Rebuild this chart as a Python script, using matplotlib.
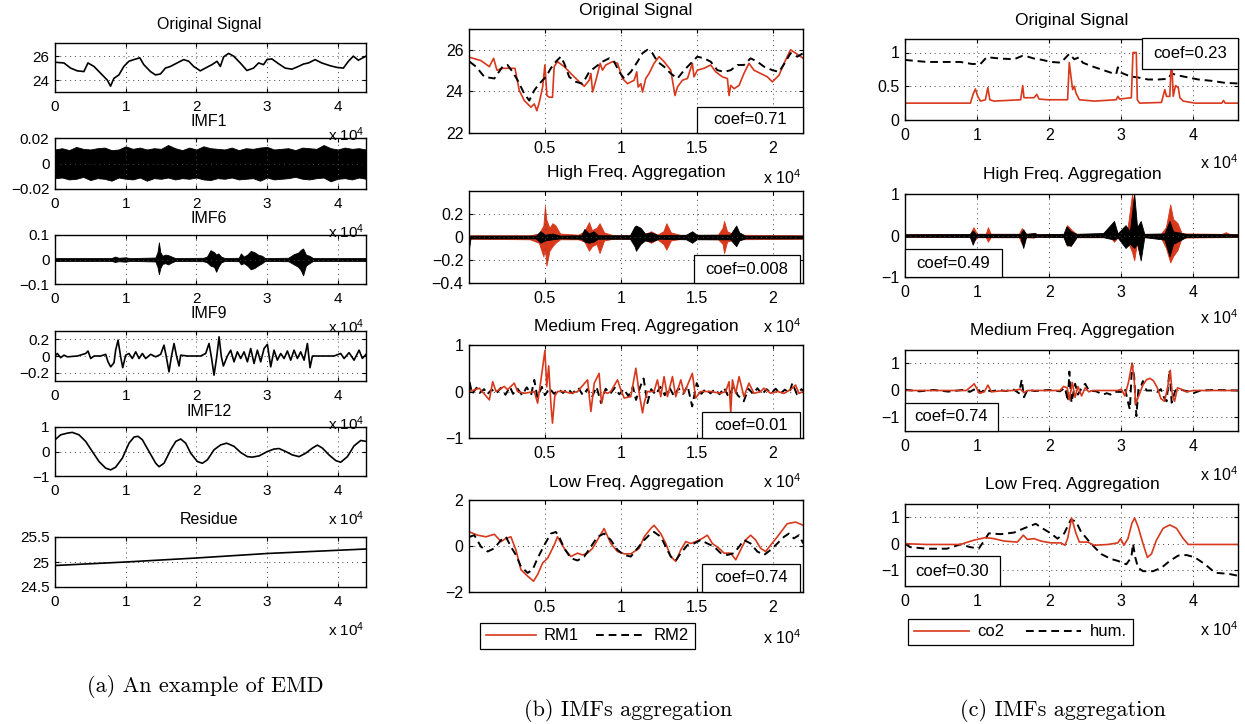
import matplotlib

matplotlib.use("Agg")

import matplotlib.pyplot as plt
from matplotlib.patches import Rectangle
from matplotlib.ticker import FuncFormatter
from matplotlib.lines import Line2D

plt.rcParams["font.family"] = ["Liberation Sans", "DejaVu Sans"]
plt.rcParams["mathtext.fontset"] = "custom"
plt.rcParams["mathtext.rm"] = "Liberation Sans"
plt.rcParams["mathtext.it"] = "Liberation Sans:italic"

RED = "#d8381c"

# ---------------------------------------------------------------- (a) EMD
# time axis in units of 1e4 samples
A_ORIG_T = [0.0, 0.127, 0.221, 0.315, 0.409, 0.466, 0.551, 0.645, 0.739, 0.786,
            0.833, 0.904, 0.974, 1.045, 1.115, 1.2, 1.256, 1.351, 1.421, 1.492,
            1.562, 1.633, 1.727, 1.821, 1.892, 1.962, 2.056, 2.127, 2.221, 2.292,
            2.339, 2.386, 2.456, 2.527, 2.621, 2.715, 2.809, 2.88, 2.951, 2.998,
            3.068, 3.162, 3.256, 3.351, 3.445, 3.515, 3.586, 3.68, 3.774, 3.892,
            3.986, 4.08, 4.151, 4.221, 4.292, 4.4]
A_ORIG_V = [25.49, 25.43, 25.0, 24.77, 24.71, 25.43, 25.14, 24.57, 24.0, 23.49,
            24.14, 24.43, 25.14, 25.57, 25.71, 25.86, 25.29, 24.71, 24.43, 24.51,
            25.0, 25.14, 25.43, 25.71, 25.57, 25.14, 24.77, 25.0, 25.29, 25.57,
            25.14, 25.94, 26.23, 26.0, 25.43, 24.8, 25.0, 25.43, 25.29, 25.71,
            25.77, 25.37, 25.0, 24.91, 25.14, 25.34, 25.43, 25.71, 25.43, 25.2,
            25.06, 25.0, 25.57, 26.0, 25.66, 26.0]

IMF1_T = [0.0, 0.1, 0.2, 0.3, 0.4, 0.5, 0.6, 0.7, 0.8, 0.9, 1.0, 1.1, 1.2, 1.3,
          1.4, 1.5, 1.6, 1.7, 1.8, 1.9, 2.0, 2.1, 2.2, 2.3, 2.4, 2.5, 2.6, 2.7,
          2.8, 2.9, 3.0, 3.1, 3.2, 3.3, 3.4, 3.5, 3.6, 3.7, 3.8, 3.9, 4.0, 4.1,
          4.2, 4.3, 4.4]
IMF1_UP = [0.011, 0.012, 0.0105, 0.013, 0.0115, 0.011, 0.012, 0.0125, 0.0105,
           0.011, 0.0135, 0.0115, 0.0125, 0.011, 0.012, 0.0115, 0.0145, 0.012,
           0.0105, 0.0125, 0.011, 0.0135, 0.012, 0.0115, 0.011, 0.0125, 0.0105,
           0.012, 0.0115, 0.0125, 0.013, 0.011, 0.0115, 0.012, 0.0105, 0.0125,
           0.012, 0.0115, 0.0145, 0.012, 0.011, 0.0125, 0.0115, 0.012, 0.011]
IMF1_LO = [-0.0115, -0.011, -0.0125, -0.012, -0.0105, -0.013, -0.0115, -0.012,
           -0.0135, -0.011, -0.012, -0.0125, -0.011, -0.0135, -0.0115, -0.012,
           -0.011, -0.0125, -0.0115, -0.012, -0.011, -0.0125, -0.013, -0.0115,
           -0.012, -0.011, -0.0125, -0.012, -0.0115, -0.0135, -0.011, -0.0125,
           -0.012, -0.0115, -0.0105, -0.012, -0.0125, -0.0115, -0.011, -0.014,
           -0.012, -0.0115, -0.0125, -0.011, -0.012]

IMF6_T = [0.0, 0.8, 0.85, 0.9, 1.0, 1.05, 1.1, 1.42, 1.45, 1.47, 1.49, 1.52, 1.56,
          1.6, 1.65, 1.7, 2.1, 2.15, 2.2, 2.25, 2.28, 2.31, 2.35, 2.4, 2.6, 2.63,
          2.67, 2.72, 2.77, 2.82, 2.87, 2.93, 2.97, 3.3, 3.38, 3.44, 3.48, 3.51,
          3.55, 3.6, 3.65, 4.4]
IMF6_UP = [0.006, 0.006, 0.012, 0.007, 0.009, 0.006, 0.006, 0.008, 0.03, 0.07,
           0.03, 0.015, 0.02, 0.018, 0.012, 0.006, 0.007, 0.012, 0.038, 0.03,
           0.02, 0.025, 0.012, 0.006, 0.007, 0.025, 0.012, 0.02, 0.035, 0.03,
           0.02, 0.015, 0.006, 0.007, 0.022, 0.028, 0.04, 0.045, 0.02, 0.015,
           0.006, 0.006]
IMF6_LO = [-0.006, -0.006, -0.01, -0.007, -0.009, -0.006, -0.006, -0.008, -0.03,
           -0.06, -0.035, -0.018, -0.015, -0.02, -0.012, -0.006, -0.007, -0.012,
           -0.025, -0.03, -0.05, -0.03, -0.012, -0.006, -0.007, -0.02, -0.015,
           -0.025, -0.04, -0.035, -0.025, -0.015, -0.006, -0.007, -0.02, -0.03,
           -0.045, -0.065, -0.025, -0.015, -0.006, -0.006]

IMF9_T = [0.0, 0.033, 0.08, 0.127, 0.175, 0.316, 0.434, 0.467, 0.505, 0.552,
          0.646, 0.717, 0.75, 0.788, 0.835, 0.858, 0.892, 0.929, 0.958, 1.0,
          1.047, 1.094, 1.142, 1.189, 1.236, 1.283, 1.354, 1.425, 1.495, 1.542,
          1.575, 1.613, 1.646, 1.684, 1.722, 1.755, 1.778, 1.873, 2.061, 2.132,
          2.179, 2.212, 2.25, 2.288, 2.321, 2.354, 2.382, 2.439, 2.486, 2.533,
          2.58, 2.627, 2.675, 2.722, 2.769, 2.816, 2.863, 2.91, 2.958, 3.005,
          3.052, 3.099, 3.146, 3.193, 3.241, 3.288, 3.335, 3.382, 3.429, 3.476,
          3.524, 3.571, 3.608, 3.642, 3.948, 4.042, 4.09, 4.16, 4.231, 4.302,
          4.349, 4.41]
IMF9_V = [0.0, 0.03, -0.02, 0.01, -0.01, 0.0, 0.03, 0.06, -0.03, 0.0,
          0.0, 0.02, -0.07, -0.13, -0.08, 0.07, 0.19, -0.01, -0.14, 0.01,
          0.03, -0.03, 0.05, -0.03, 0.03, -0.03, 0.02, -0.01, 0.02, 0.13,
          -0.01, -0.19, -0.01, 0.15, -0.01, -0.12, 0.01, 0.0, 0.0, 0.03,
          0.15, -0.01, -0.23, -0.01, 0.23, -0.01, -0.12, 0.0, 0.07, -0.07,
          0.05, -0.03, 0.05, -0.07, 0.09, -0.09, 0.07, -0.07, 0.09, 0.14,
          -0.13, 0.07, -0.05, 0.03, -0.03, 0.06, -0.05, 0.07, -0.03, 0.05,
          -0.05, 0.15, -0.14, 0.0, 0.0, 0.03, -0.03, 0.04, -0.05, 0.07,
          -0.03, 0.03]

IMF12_T = [0.0, 0.08, 0.175, 0.245, 0.34, 0.434, 0.528, 0.623, 0.717, 0.788,
           0.858, 0.953, 1.047, 1.118, 1.175, 1.236, 1.33, 1.425, 1.472, 1.542,
           1.637, 1.708, 1.778, 1.849, 1.92, 2.014, 2.085, 2.156, 2.25, 2.344,
           2.429, 2.533, 2.627, 2.722, 2.792, 2.887, 3.005, 3.099, 3.17, 3.264,
           3.358, 3.453, 3.547, 3.642, 3.712, 3.783, 3.877, 3.972, 4.042, 4.137,
           4.231, 4.325, 4.41]
IMF12_V = [0.48, 0.68, 0.75, 0.78, 0.68, 0.41, 0.0, -0.41, -0.68, -0.75,
           -0.64, -0.27, 0.34, 0.59, 0.62, 0.48, 0.0, -0.48, -0.62, -0.48,
           0.07, 0.41, 0.51, 0.34, -0.07, -0.41, -0.48, -0.34, 0.07, 0.27,
           0.34, 0.21, -0.04, -0.21, -0.23, -0.18, 0.0, 0.1, 0.12, 0.0,
           -0.14, -0.21, -0.07, 0.14, 0.26, 0.14, -0.14, -0.37, -0.44, -0.21,
           0.23, 0.45, 0.41]

RES_T = [0.0, 1.0, 2.0, 3.0, 4.4]
RES_V = [24.93, 25.0, 25.08, 25.17, 25.26]

# ------------------------------------------------- (b) RM1 / RM2 aggregation
B_ORIG_RM1_T = [0.004, 0.079, 0.134, 0.162, 0.184, 0.221, 0.254, 0.303, 0.331,
                0.364, 0.408, 0.43, 0.447, 0.463, 0.485, 0.5, 0.513, 0.529, 0.55,
                0.561, 0.583, 0.627, 0.671, 0.715, 0.759, 0.792, 0.803, 0.814,
                0.836, 0.864, 0.879, 0.901, 0.945, 0.978, 1.011, 1.044, 1.088,
                1.105, 1.114, 1.132, 1.143, 1.164, 1.186, 1.219, 1.252, 1.285,
                1.329, 1.357, 1.373, 1.406, 1.439, 1.471, 1.482, 1.504, 1.548,
                1.592, 1.625, 1.669, 1.702, 1.713, 1.724, 1.746, 1.779, 1.811,
                1.844, 1.877, 1.921, 1.965, 1.998, 2.042, 2.075, 2.118, 2.151,
                2.202]
B_ORIG_RM1_V = [25.64, 25.48, 25.19, 25.59, 25.02, 25.11, 25.11, 25.11, 24.05,
                23.56, 23.24, 23.4, 23.07, 23.48, 24.21, 25.27, 23.8, 23.72, 23.72,
                25.19, 25.43, 25.19, 24.86, 24.54, 24.24, 24.54, 24.86, 23.97,
                24.54, 25.35, 25.02, 25.27, 25.43, 25.35, 24.62, 24.37, 24.54,
                24.94, 24.21, 24.37, 23.97, 24.62, 24.86, 25.35, 25.67, 25.43,
                25.02, 23.8, 24.21, 24.54, 24.62, 25.35, 24.7, 25.02, 25.11,
                25.27, 24.94, 24.7, 24.62, 23.8, 24.29, 24.13, 24.29, 24.86,
                25.35, 25.02, 24.86, 24.7, 24.46, 24.78, 25.35, 26.0, 25.84,
                25.59]
B_ORIG_RM2_T = [0.004, 0.046, 0.101, 0.167, 0.221, 0.254, 0.287, 0.32, 0.364,
                0.397, 0.43, 0.463, 0.507, 0.539, 0.572, 0.605, 0.627, 0.66, 0.704,
                0.748, 0.792, 0.836, 0.879, 0.923, 0.956, 0.989, 1.022, 1.066,
                1.11, 1.143, 1.175, 1.208, 1.241, 1.285, 1.329, 1.373, 1.417,
                1.461, 1.504, 1.548, 1.592, 1.636, 1.68, 1.724, 1.768, 1.811,
                1.855, 1.899, 1.943, 1.998, 2.042, 2.086, 2.118, 2.162, 2.202]
B_ORIG_RM2_V = [25.43, 25.19, 24.7, 24.62, 25.19, 25.27, 24.94, 24.54, 23.89,
                23.56, 24.05, 24.37, 24.7, 25.11, 25.43, 25.67, 25.35, 24.7, 24.46,
                24.37, 24.94, 25.19, 25.43, 25.59, 25.43, 24.94, 24.62, 24.94,
                25.43, 25.84, 26.0, 25.84, 25.43, 25.19, 24.86, 24.62, 25.02,
                25.35, 25.67, 25.59, 25.43, 25.02, 24.94, 25.02, 25.27, 25.27,
                25.59, 25.43, 25.19, 25.02, 24.94, 25.43, 25.84, 25.67, 25.84]

B_HIGH_RM1_T = [0.0, 0.4, 0.46, 0.49, 0.5, 0.51, 0.53, 0.55, 0.57, 0.6, 0.72,
                0.76, 0.79, 0.81, 0.84, 0.86, 0.89, 0.95, 1.15, 1.2, 1.24, 1.28,
                1.3, 1.33, 1.4, 1.64, 1.67, 1.68, 1.7, 1.75, 2.2]
B_HIGH_RM1_UP = [0.015, 0.015, 0.03, 0.1, 0.27, 0.15, 0.08, 0.12, 0.1, 0.03, 0.02,
                 0.05, 0.13, 0.06, 0.08, 0.12, 0.04, 0.015, 0.02, 0.05, 0.02, 0.05,
                 0.12, 0.04, 0.015, 0.02, 0.08, 0.14, 0.05, 0.02, 0.015]
B_HIGH_RM1_LO = [-0.015, -0.02, -0.05, -0.17, -0.1, -0.25, -0.12, -0.08, -0.05,
                 -0.02, -0.02, -0.04, -0.12, -0.08, -0.06, -0.14, -0.03, -0.015,
                 -0.02, -0.05, -0.02, -0.06, -0.11, -0.03, -0.015, -0.02, -0.06,
                 -0.14, -0.04, -0.02, -0.015]
B_HIGH_RM2_T = [0.0, 0.01, 0.44, 0.47, 0.5, 0.55, 0.6, 0.74, 0.76, 0.79, 0.82,
                0.85, 1.06, 1.09, 1.1, 1.13, 1.16, 1.2, 1.25, 1.43, 1.47, 1.5,
                1.72, 1.76, 1.78, 1.82, 2.2]
B_HIGH_RM2_UP = [0.01, 0.012, 0.012, 0.05, 0.02, 0.03, 0.012, 0.015, 0.07, 0.03,
                 0.05, 0.015, 0.015, 0.09, 0.1, 0.08, 0.03, 0.04, 0.015, 0.02,
                 0.05, 0.02, 0.02, 0.1, 0.04, 0.012, 0.012]
B_HIGH_RM2_LO = [-0.1, -0.012, -0.012, -0.05, -0.03, -0.02, -0.012, -0.015, -0.04,
                 -0.05, -0.04, -0.015, -0.015, -0.08, -0.12, -0.06, -0.03, -0.04,
                 -0.015, -0.02, -0.05, -0.02, -0.02, -0.08, -0.03, -0.012, -0.012]

B_MED_RM1_T = [0.004, 0.068, 0.134, 0.156, 0.178, 0.232, 0.254, 0.298, 0.32,
               0.364, 0.43, 0.452, 0.474, 0.5, 0.512, 0.525, 0.54, 0.55, 0.565,
               0.583, 0.627, 0.671, 0.715, 0.781, 0.803, 0.825, 0.857, 0.873,
               0.89, 0.912, 0.934, 0.978, 1.0, 1.022, 1.066, 1.099, 1.121, 1.143,
               1.154, 1.175, 1.219, 1.241, 1.263, 1.285, 1.307, 1.34, 1.362,
               1.395, 1.417, 1.471, 1.493, 1.526, 1.592, 1.658, 1.691, 1.713,
               1.724, 1.735, 1.757, 1.779, 1.811, 1.844, 1.877, 1.921, 1.943,
               1.987, 2.031, 2.075, 2.118, 2.151, 2.173, 2.202]
B_MED_RM1_V = [0.0, 0.07, -0.18, 0.21, 0.0, 0.11, 0.04, 0.18, 0.0,
               -0.04, 0.0, -0.25, 0.25, 0.88, 0.1, 0.55, -0.3, -0.68, -0.1,
               0.0, 0.0, -0.04, 0.0, 0.25, -0.43, 0.18, 0.39, -0.25,
               0.0, -0.04, 0.0, 0.25, 0.04, -0.14, -0.11, 0.5, -0.04, -0.46,
               -0.25, 0.0, 0.0, 0.25, -0.11, 0.32, -0.11, 0.32, -0.11,
               0.25, -0.04, 0.39, -0.14, 0.0, 0.0, -0.04, 0.0, 0.21,
               -0.46, 0.25, -0.04, 0.32, -0.11, 0.18, -0.04, 0.0, 0.07,
               -0.04, 0.0, -0.04, 0.04, 0.14, -0.04, 0.0]
B_MED_RM2_T = [0.004, 0.02, 0.05, 0.07, 0.1, 0.12, 0.15, 0.18, 0.21, 0.24, 0.27,
               0.29, 0.32, 0.35, 0.38, 0.41, 0.43, 0.45, 0.48, 0.5, 0.53, 0.56,
               0.59, 0.62, 0.65, 0.68, 0.72, 0.75, 0.78, 0.81, 0.84, 0.87, 0.9,
               0.93, 0.96, 0.99, 1.02, 1.05, 1.08, 1.1, 1.13, 1.15, 1.175, 1.2,
               1.23, 1.26, 1.29, 1.32, 1.35, 1.38, 1.41, 1.44, 1.47, 1.5, 1.53,
               1.56, 1.59, 1.62, 1.65, 1.68, 1.71, 1.74, 1.77, 1.81, 1.84, 1.87,
               1.9, 1.93, 1.96, 1.99, 2.02, 2.05, 2.08, 2.11, 2.13, 2.16, 2.19,
               2.2]
B_MED_RM2_V = [0.2, -0.05, 0.08, -0.03, 0.05, -0.06, 0.04, -0.04, 0.08, -0.07,
               0.1, -0.05, 0.06, -0.08, 0.09, -0.06, 0.25, -0.12, 0.1, -0.08,
               0.07, -0.05, 0.04, -0.03, 0.06, -0.04, 0.08, -0.08, 0.05, -0.12,
               0.1, -0.25, 0.06, -0.05, 0.08, -0.06, 0.05, -0.1, 0.1, -0.18,
               0.12, 0.28, -0.25, 0.05, -0.07, 0.1, -0.08, 0.09, -0.1, 0.07,
               -0.05, 0.12, -0.32, 0.18, -0.05, 0.06, -0.04, 0.05, -0.06, 0.08,
               -0.12, 0.1, -0.08, -0.21, 0.06, -0.05, 0.07, -0.06, 0.05, -0.04,
               0.06, -0.05, 0.04, -0.03, 0.18, -0.06, 0.05, 0.02]

B_LOW_RM1_T = [0.004, 0.057, 0.112, 0.167, 0.211, 0.243, 0.276, 0.309, 0.342,
               0.386, 0.425, 0.452, 0.485, 0.518, 0.561, 0.583, 0.627, 0.671,
               0.715, 0.748, 0.781, 0.814, 0.846, 0.89, 0.934, 0.978, 1.022,
               1.066, 1.121, 1.154, 1.197, 1.219, 1.263, 1.296, 1.329, 1.362,
               1.395, 1.428, 1.461, 1.493, 1.537, 1.57, 1.603, 1.647, 1.68, 1.724,
               1.757, 1.789, 1.822, 1.855, 1.888, 1.921, 1.954, 1.987, 2.031,
               2.064, 2.096, 2.151, 2.202]
B_LOW_RM1_V = [0.61, 0.47, 0.4, 0.51, 0.19, 0.33, 0.4, -0.17, -1.03,
               -1.31, -1.53, -1.24, -0.74, -0.53, 0.04, 0.4, -0.1, -0.46,
               -0.31, -0.39, -0.31, -0.1, 0.26, 0.76, 0.11, -0.24, -0.34,
               -0.34, -0.1, 0.4, 0.76, 0.9, 0.54, 0.11, -0.46, -0.67,
               -0.17, 0.19, 0.11, 0.19, 0.33, 0.47, 0.11, -0.1, -0.31, -0.31,
               -0.6, -0.17, 0.26, 0.47, 0.26, -0.1, -0.24, 0.04, 0.4,
               0.69, 0.97, 1.04, 0.9]
B_LOW_RM2_T = [0.004, 0.035, 0.079, 0.123, 0.167, 0.211, 0.243, 0.276, 0.309,
               0.342, 0.386, 0.419, 0.452, 0.496, 0.539, 0.572, 0.594, 0.627,
               0.671, 0.715, 0.759, 0.803, 0.846, 0.89, 0.934, 0.978, 1.022,
               1.066, 1.11, 1.154, 1.197, 1.219, 1.263, 1.296, 1.329, 1.362,
               1.395, 1.439, 1.482, 1.526, 1.57, 1.614, 1.658, 1.702, 1.746,
               1.779, 1.811, 1.855, 1.899, 1.943, 1.987, 2.031, 2.075, 2.107,
               2.14, 2.173, 2.202]
B_LOW_RM2_V = [0.4, 0.47, -0.03, -0.24, -0.1, 0.26, 0.4, -0.03, -0.39,
               -0.89, -1.17, -1.03, -0.53, 0.04, 0.54, 0.61, 0.4, -0.1,
               -0.53, -0.63, -0.46, -0.03, 0.4, 0.54, 0.26, -0.17, -0.39,
               -0.46, -0.1, 0.26, 0.54, 0.61, 0.4, -0.03, -0.46, -0.63,
               -0.31, 0.04, 0.11, 0.26, 0.11, -0.03, -0.31, -0.39, -0.31,
               -0.03, 0.26, 0.11, -0.24, -0.39, -0.17, 0.11, 0.4, 0.54,
               0.33, 0.47, 0.11]

# ------------------------------------------------- (c) co2 / hum. aggregation
C_ORIG_CO2_T = [0.0, 0.907, 0.944, 0.977, 1.009, 1.047, 1.116, 1.149, 1.177,
                1.233, 1.605, 1.633, 1.651, 1.791, 1.828, 1.86, 1.977, 2.256,
                2.279, 2.302, 2.326, 2.349, 2.372, 2.419, 2.628, 2.93, 2.953,
                2.977, 3.14, 3.163, 3.186, 3.209, 3.223, 3.256, 3.558, 3.605,
                3.628, 3.674, 3.698, 3.721, 3.753, 3.791, 3.814, 3.86, 4.023,
                4.395, 4.419, 4.442, 4.651]
C_ORIG_CO2_V = [0.25, 0.25, 0.38, 0.46, 0.35, 0.28, 0.3, 0.48, 0.3,
                0.28, 0.3, 0.51, 0.33, 0.33, 0.38, 0.31, 0.3, 0.3,
                0.85, 0.65, 0.45, 0.5, 0.4, 0.3, 0.28, 0.3, 0.35,
                0.31, 0.33, 1.0, 1.0, 1.0, 0.3, 0.25, 0.26, 0.45,
                0.35, 0.35, 0.95, 0.35, 0.51, 0.48, 0.33, 0.28, 0.25,
                0.25, 0.29, 0.25, 0.25]
C_ORIG_HUM_T = [0.0, 0.302, 0.767, 0.93, 1.047, 1.116, 1.14, 1.326, 1.512, 1.628,
                1.698, 1.791, 1.907, 2.023, 2.163, 2.279, 2.349, 2.419, 2.465,
                2.581, 2.721, 2.86, 2.93, 2.953, 3.0, 3.093, 3.163, 3.233, 3.372,
                3.512, 3.651, 3.698, 3.791, 3.93, 4.07, 4.256, 4.442, 4.651]
C_ORIG_HUM_V = [0.89, 0.86, 0.86, 0.83, 0.83, 0.91, 0.93, 0.91, 0.9, 0.95,
                0.94, 0.91, 0.89, 0.86, 0.85, 0.98, 0.9, 0.93, 0.85,
                0.8, 0.75, 0.7, 0.68, 0.78, 0.7, 0.66, 0.64, 0.63, 0.6,
                0.6, 0.61, 0.69, 0.66, 0.63, 0.6, 0.58, 0.55, 0.54]

C_HIGH_CO2_T = [0.0, 0.9, 0.95, 1.0, 1.12, 1.15, 1.19, 1.58, 1.62, 1.67, 1.78,
                1.82, 2.2, 2.25, 2.32, 2.38, 2.85, 2.9, 2.95, 3.08, 3.15, 3.18,
                3.22, 3.3, 3.55, 3.62, 3.68, 3.72, 3.78, 3.84, 4.4, 4.45, 4.5,
                4.62]
C_HIGH_CO2_UP = [0.03, 0.03, 0.2, 0.04, 0.04, 0.2, 0.04, 0.04, 0.18, 0.04, 0.05,
                 0.03, 0.04, 0.25, 0.12, 0.04, 0.04, 0.2, 0.05, 0.08, 1.0, 0.7,
                 0.1, 0.04, 0.04, 0.2, 0.75, 0.4, 0.3, 0.05, 0.04, 0.08, 0.04,
                 0.03]
C_HIGH_CO2_LO = [-0.03, -0.03, -0.15, -0.04, -0.04, -0.15, -0.04, -0.04, -0.2,
                 -0.04, -0.05, -0.03, -0.04, -0.25, -0.2, -0.04, -0.04, -0.15,
                 -0.05, -0.1, -0.4, -0.6, -0.15, -0.04, -0.05, -0.3, -0.65, -0.5,
                 -0.35, -0.05, -0.04, -0.04, -0.04, -0.03]
C_HIGH_HUM_T = [0.0, 0.9, 0.94, 0.98, 1.6, 1.64, 1.68, 1.8, 1.84, 2.2, 2.24, 2.3,
                2.38, 2.75, 2.9, 2.95, 3.06, 3.12, 3.18, 3.22, 3.27, 3.32, 3.6,
                3.67, 3.72, 3.9, 4.62]
C_HIGH_HUM_UP = [0.03, 0.035, 0.12, 0.04, 0.04, 0.15, 0.04, 0.06, 0.03, 0.04, 0.22,
                 0.1, 0.04, 0.06, 0.35, 0.05, 0.25, 0.1, 1.0, 0.2, 0.35, 0.04,
                 0.05, 0.35, 0.1, 0.04, 0.03]
C_HIGH_HUM_LO = [-0.03, -0.035, -0.22, -0.04, -0.04, -0.3, -0.04, -0.04, -0.03,
                 -0.04, -0.22, -0.25, -0.04, -0.04, -0.1, -0.05, -0.3, -0.2, -0.3,
                 -0.2, -0.6, -0.04, -0.1, -0.5, -0.2, -0.04, -0.03]

C_MED_CO2_T = [0.0, 0.85, 0.92, 0.96, 1.0, 1.03, 1.1, 1.15, 1.2, 1.3, 1.5, 1.6,
               1.65, 1.7, 2.15, 2.2, 2.25, 2.28, 2.32, 2.36, 2.4, 2.45, 2.5, 2.55,
               2.6, 2.95, 3.0, 3.05, 3.1, 3.15, 3.18, 3.2, 3.25, 3.3, 3.35, 3.4,
               3.45, 3.5, 3.55, 3.6, 3.64, 3.68, 3.71, 3.74, 3.78, 3.83, 3.9,
               4.0, 4.62]
C_MED_CO2_V = [0.0, 0.0, 0.15, 0.25, 0.05, -0.1, -0.05, 0.2, -0.05, -0.02, 0.0,
               0.05, -0.08, 0.0, 0.0, 0.15, 0.1, -0.35, 0.3, -0.25, 0.15, -0.2,
               0.1, -0.05, 0.0, 0.0, 0.05, -0.2, 0.3, 1.0, 0.4, -0.5, -0.15,
               0.2, 0.4, 0.45, 0.35, 0.1, -0.3, -0.4, 0.05, 0.75, -0.2, -0.4,
               0.1, 0.05, -0.05, 0.0, 0.0]
C_MED_HUM_T = [0.0, 0.2, 0.4, 0.6, 0.8, 0.9, 1.0, 1.05, 1.1, 1.2, 1.3, 1.4, 1.5,
               1.58, 1.62, 1.65, 1.7, 1.8, 2.0, 2.15, 2.22, 2.26, 2.28, 2.31,
               2.36, 2.4, 2.45, 2.5, 2.55, 2.65, 2.75, 2.8, 2.85, 2.9, 3.0, 3.05,
               3.1, 3.12, 3.15, 3.18, 3.21, 3.24, 3.28, 3.3, 3.35, 3.45, 3.5,
               3.55, 3.6, 3.63, 3.67, 3.7, 3.75, 3.8, 3.9, 4.0, 4.1, 4.3, 4.62]
C_MED_HUM_V = [0.03, -0.03, 0.02, -0.04, 0.02, -0.05, 0.1, -0.08, 0.02, -0.03,
               0.02, -0.02, 0.05, -0.1, 0.4, -0.25, 0.03, -0.02, 0.02, -0.03,
               0.1, -0.4, 0.7, -0.45, 0.25, -0.15, 0.1, 0.25, 0.0, -0.03,
               -0.15, -0.1, -0.15, -0.05, -0.05, 0.1, -0.5, -0.7, 1.0, 0.5,
               -0.95, 0.1, 0.2, 0.35, 0.0, 0.0, -0.05, 0.05, -0.3, -0.4,
               0.75, -0.45, 0.0, 0.05, -0.02, -0.1, 0.0, 0.02, 0.0]

C_LOW_CO2_T = [0.0, 0.302, 0.767, 0.953, 1.116, 1.233, 1.372, 1.558, 1.642,
               1.698, 1.791, 1.884, 2.023, 2.163, 2.219, 2.256, 2.312, 2.372,
               2.419, 2.535, 2.628, 2.814, 2.953, 2.991, 3.037, 3.093, 3.149,
               3.186, 3.233, 3.302, 3.363, 3.419, 3.488, 3.581, 3.674, 3.767,
               3.86, 3.93, 4.023, 4.651]
C_LOW_CO2_V = [0.0, -0.03, -0.03, 0.13, 0.23, 0.19, 0.1, 0.06, 0.32,
               0.16, 0.19, 0.1, 0.03, 0.03, -0.06, 0.19, 0.97, 0.39,
               0.06, 0.06, -0.06, -0.03, 0.03, 0.19, -0.06, 0.19, 0.78,
               0.97, 0.65, 0.0, -0.52, -0.39, 0.13, 0.58, 0.71, 0.58,
               0.19, -0.03, -0.03, -0.03]
C_LOW_HUM_T = [0.0, 0.07, 0.302, 0.581, 0.767, 0.907, 1.023, 1.102, 1.163, 1.326,
               1.512, 1.651, 1.814, 1.907, 2.023, 2.116, 2.209, 2.302, 2.372,
               2.442, 2.581, 2.721, 2.86, 2.953, 3.07, 3.14, 3.163, 3.195, 3.233,
               3.302, 3.442, 3.558, 3.674, 3.791, 3.907, 4.023, 4.163, 4.302,
               4.488, 4.651]
C_LOW_HUM_V = [0.0, -0.13, -0.19, -0.19, -0.03, -0.13, -0.19, 0.13, 0.39, 0.36,
               0.42, 0.58, 0.75, 0.58, 0.39, 0.19, 0.39, 0.91, 0.84,
               0.45, 0.0, -0.39, -0.58, -0.65, -0.78, -0.52, 0.0, -0.52, -0.91,
               -1.04, -1.04, -0.91, -0.65, -0.45, -0.43, -0.52, -0.78, -1.1,
               -1.14, -1.23]

# ------------------------------------------------------------------ layout
W, H = 1245, 724
fig = plt.figure(figsize=(W / 100, H / 100), dpi=100)


def rect(left, top, right, bottom):
    return [left / W, 1 - bottom / H, (right - left) / W, (bottom - top) / H]


def minus_fmt(value, _pos):
    return f"{value:g}".replace("-", "\u2212")


def make_axes(box, xlim, ylim, xticks, yticks, fs):
    ax = fig.add_axes(rect(*box))
    ax.set_xlim(*xlim)
    ax.set_ylim(*ylim)
    ax.set_xticks(xticks)
    ax.set_yticks(yticks)
    ax.xaxis.set_major_formatter(FuncFormatter(minus_fmt))
    ax.yaxis.set_major_formatter(FuncFormatter(minus_fmt))
    ax.tick_params(direction="in", top=True, right=True, length=3, width=0.8,
                   labelsize=fs, pad=4)
    ax.tick_params(axis="x", pad=6)
    ax.grid(True, color="#444444", linestyle=(0, (1, 4)), linewidth=0.7)
    for spine in ax.spines.values():
        spine.set_linewidth(1.0)
    return ax


def label_text(x, y, text, fs, ha="center"):
    fig.text(x / W, 1 - y / H, text, ha=ha, va="center", fontsize=fs)


def coef_box(left, top, right, bottom, text):
    fig.add_artist(Rectangle((left / W, 1 - bottom / H), (right - left) / W,
                             (bottom - top) / H, transform=fig.transFigure,
                             facecolor="white", edgecolor="black", linewidth=0.9,
                             zorder=10))
    t = fig.text((left + right) / 2 / W, 1 - (top + bottom) / 2 / H, text,
                 ha="center", va="center", fontsize=12)
    t.set_zorder(11)


def dashed(ax, t, v, **kw):
    ax.plot(t, v, color="black", linewidth=1.4, dashes=(4, 2.5), **kw)


# ---- column (a)
A_FS, A_TFS = 11, 11.5
a_left, a_right = 55, 366
a_ticks = [0, 1, 2, 3, 4]

ax = make_axes((a_left, 43, a_right, 92), (0, 4.4), (23, 27.1), a_ticks, [24, 26], A_FS)
ax.plot(A_ORIG_T, A_ORIG_V, color="black", linewidth=1.2)

ax = make_axes((a_left, 138, a_right, 189), (0, 4.4), (-0.02, 0.02), a_ticks,
               [-0.02, 0, 0.02], A_FS)
ax.fill_between(IMF1_T, IMF1_LO, IMF1_UP, color="black", linewidth=0.6)

ax = make_axes((a_left, 235, a_right, 284), (0, 4.4), (-0.1, 0.1), a_ticks,
               [-0.1, 0, 0.1], A_FS)
ax.fill_between(IMF6_T, IMF6_LO, IMF6_UP, color="black", linewidth=0.6)

ax = make_axes((a_left, 331, a_right, 381), (0, 4.4), (-0.3, 0.3), a_ticks,
               [-0.2, 0, 0.2], A_FS)
ax.plot(IMF9_T, IMF9_V, color="black", linewidth=1.2)

ax = make_axes((a_left, 427, a_right, 476), (0, 4.4), (-1, 1), a_ticks, [-1, 0, 1], A_FS)
ax.plot(IMF12_T, IMF12_V, color="black", linewidth=1.2)

ax = make_axes((a_left, 537, a_right, 587), (0, 4.4), (24.5, 25.5), a_ticks,
               [24.5, 25, 25.5], A_FS)
ax.plot(RES_T, RES_V, color="black", linewidth=1.2)

for y, title in zip([25, 122, 218, 314, 411, 519],
                    ["Original Signal", "IMF1", "IMF6", "IMF9", "IMF12", "Residue"]):
    label_text(209, y, title, A_TFS)
for y in [135, 232, 327, 424, 519, 630]:
    label_text(364, y, r"x 10$^{4}$", A_FS, ha="right")

# ---- column (b)
B_FS, B_TFS = 11.5, 12.5
b_left, b_right = 469, 803
b_ticks = [0.5, 1, 1.5, 2]

ax = make_axes((b_left, 29, b_right, 133), (0, 2.2), (22, 27), b_ticks, [22, 24, 26], B_FS)
ax.plot(B_ORIG_RM1_T, B_ORIG_RM1_V, color=RED, linewidth=1.2)
dashed(ax, B_ORIG_RM2_T, B_ORIG_RM2_V)

ax = make_axes((b_left, 191, b_right, 283), (0, 2.2), (-0.4, 0.4), b_ticks,
               [-0.4, -0.2, 0, 0.2], B_FS)
ax.fill_between(B_HIGH_RM1_T, B_HIGH_RM1_LO, B_HIGH_RM1_UP, color=RED, linewidth=0.6)
ax.fill_between(B_HIGH_RM2_T, B_HIGH_RM2_LO, B_HIGH_RM2_UP, color="black", linewidth=0.6)

ax = make_axes((b_left, 345, b_right, 438), (0, 2.2), (-1, 1), b_ticks, [-1, 0, 1], B_FS)
dashed(ax, B_MED_RM2_T, B_MED_RM2_V)
ax.plot(B_MED_RM1_T, B_MED_RM1_V, color=RED, linewidth=1.2)

ax = make_axes((b_left, 500, b_right, 592), (0, 2.2), (-2, 2), b_ticks, [-2, 0, 2], B_FS)
ax.plot(B_LOW_RM1_T, B_LOW_RM1_V, color=RED, linewidth=1.2)
dashed(ax, B_LOW_RM2_T, B_LOW_RM2_V)

for y, title in zip([11, 172, 326, 482],
                    ["Original Signal", "High Freq. Aggregation",
                     "Medium Freq. Aggregation", "Low Freq. Aggregation"]):
    label_text(636, y, title, B_TFS)
for y in [178, 327, 482, 638]:
    label_text(801, y, r"x 10$^{4}$", B_FS, ha="right")

coef_box(697, 107, 803, 133, "coef=0.71")
coef_box(694, 255, 800, 283, "coef=0.008")
coef_box(702, 412, 800, 438, "coef=0.01")
coef_box(702, 564, 800, 592, "coef=0.74")

# ---- column (c)
c_left, c_right = 905, 1238
c_ticks = [0, 1, 2, 3, 4]

ax = make_axes((c_left, 39, c_right, 120), (0, 4.62), (0, 1.2), c_ticks, [0, 0.5, 1], B_FS)
dashed(ax, C_ORIG_HUM_T, C_ORIG_HUM_V)
ax.plot(C_ORIG_CO2_T, C_ORIG_CO2_V, color=RED, linewidth=1.2)

ax = make_axes((c_left, 194, c_right, 277), (0, 4.62), (-1, 1), c_ticks, [-1, 0, 1], B_FS)
ax.fill_between(C_HIGH_CO2_T, C_HIGH_CO2_LO, C_HIGH_CO2_UP, color=RED, linewidth=0.6)
ax.fill_between(C_HIGH_HUM_T, C_HIGH_HUM_LO, C_HIGH_HUM_UP, color="black", linewidth=0.6)

ax = make_axes((c_left, 350, c_right, 431), (0, 4.62), (-1.5, 1.5), c_ticks, [-1, 0, 1], B_FS)
dashed(ax, C_MED_HUM_T, C_MED_HUM_V)
ax.plot(C_MED_CO2_T, C_MED_CO2_V, color=RED, linewidth=1.2)

ax = make_axes((c_left, 504, c_right, 586), (0, 4.62), (-1.6, 1.5), c_ticks, [-1, 0, 1], B_FS)
dashed(ax, C_LOW_HUM_T, C_LOW_HUM_V)
ax.plot(C_LOW_CO2_T, C_LOW_CO2_V, color=RED, linewidth=1.2)

for y, title in zip([20, 175, 330, 485],
                    ["Original Signal", "High Freq. Aggregation",
                     "Medium Freq. Aggregation", "Low Freq. Aggregation"]):
    label_text(1072, y, title, B_TFS)
for y in [163, 318, 475, 630]:
    label_text(1238, y, r"x 10$^{4}$", B_FS, ha="right")

coef_box(1142, 38, 1238, 69, "coef=0.23")
coef_box(905, 249, 1002, 277, "coef=0.49")
coef_box(905, 403, 998, 431, "coef=0.74")
coef_box(905, 556, 1000, 586, "coef=0.30")

# ---- legends
red_handle = Line2D([], [], color=RED, linewidth=1.2)
dash_handle = Line2D([], [], color="black", linewidth=1.4, dashes=(4, 2.5))
for (l, t, r, b), names, hlen, cspace in [
        ((478, 620, 697, 652), ["RM1", "RM2"], 3.0, 1.0),
        ((904, 617, 1137, 647), ["co2", "hum."], 3.3, 1.3)]:
    cx = (l + r) / 2 / W
    cy = 1 - (t + b) / 2 / H
    leg = fig.legend([red_handle, dash_handle], names, ncol=2, loc="center",
                     bbox_to_anchor=(cx, cy), bbox_transform=fig.transFigure,
                     borderaxespad=0, fontsize=12, handlelength=hlen,
                     handletextpad=0.5, columnspacing=cspace, fancybox=False,
                     edgecolor="black", framealpha=1, borderpad=0.35)
    leg.get_frame().set_linewidth(0.9)

# ---- captions
for x, y, text in [(205, 687, "(a) An example of EMD"),
                   (628, 710, "(b) IMFs aggregation"),
                   (1063, 710, "(c) IMFs aggregation")]:
    fig.text(x / W, 1 - y / H, text, ha="center", va="center",
             fontsize=16, family="cmr10")

fig.savefig("out.png", dpi=100)
